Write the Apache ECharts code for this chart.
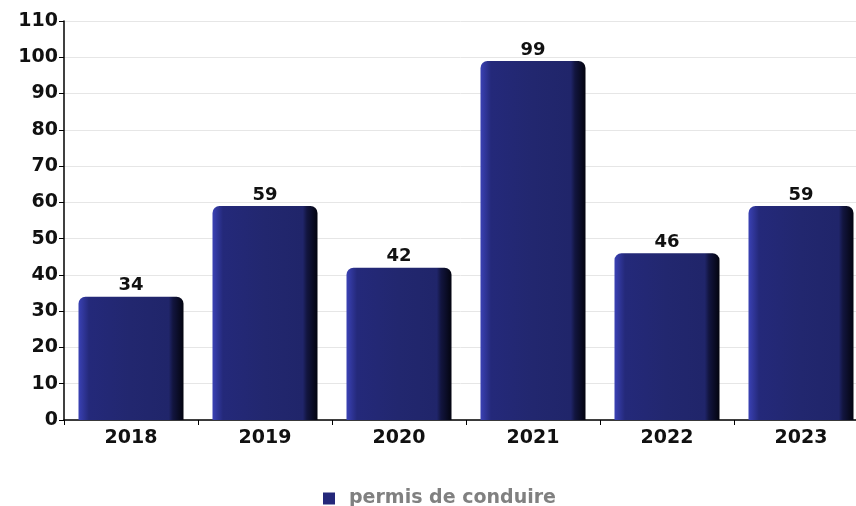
<!DOCTYPE html>
<html><head><meta charset="utf-8">
<script src="https://cdn.jsdelivr.net/npm/echarts@6/dist/echarts.min.js"></script>
<style>html,body{margin:0;padding:0;background:#fff}#c{width:856px;height:506px}</style>
</head><body><div id="c"></div>
<script>
const categories = ['2018','2019','2020','2021','2022','2023'];
const values = [34, 59, 42, 99, 46, 59];
const seriesName = 'permis de conduire';
const yTicks = {min: 0, max: 110, interval: 10};

const font = 'DejaVu Sans';
const chart = echarts.init(document.getElementById('c'), null, {renderer: 'canvas'});
chart.setOption({
  animation: false,
  backgroundColor: '#ffffff',
  grid: {left: 64, top: 21, width: 804, height: 399, containLabel: false, outerBoundsMode: 'none'},
  legend: {
    top: 484, left: 318,
    itemWidth: 12, itemHeight: 12, itemGap: 12,
    icon: 'rect',
    textStyle: {fontFamily: font, fontWeight: 'bold', fontSize: 19, color: '#808080', padding: [0, 0, 0, 9]},
    data: [{name: seriesName, itemStyle: {color: '#24287a'}}]
  },
  xAxis: {
    type: 'category', data: categories,
    axisLine: {lineStyle: {color: '#000', width: 1.5}},
    axisTick: {show: true, length: 5, lineStyle: {color: '#000'}},
    axisLabel: {fontFamily: font, fontWeight: 'bold', fontSize: 19, color: '#111', margin: 9},
    splitLine: {show: false}
  },
  yAxis: {
    type: 'value', min: yTicks.min, max: yTicks.max, interval: yTicks.interval,
    axisLine: {show: true, lineStyle: {color: '#000', width: 1.5}},
    axisTick: {show: true, length: 5, lineStyle: {color: '#000'}},
    axisLabel: {fontFamily: font, fontWeight: 'bold', fontSize: 19, color: '#111', margin: 6},
    splitLine: {lineStyle: {color: '#e6e6e6', width: 1}}
  },
  series: [{
    name: seriesName, type: 'bar', data: values,
    barWidth: 105,
    itemStyle: {
      borderRadius: [7, 7, 0, 0],
      color: {type: 'linear', x: 0, y: 0, x2: 1, y2: 0, colorStops: [
        {offset: 0, color: '#3a41b4'},
        {offset: 0.1, color: '#24297a'},
        {offset: 0.5, color: '#22276f'},
        {offset: 0.86, color: '#20256a'},
        {offset: 0.9, color: '#12153f'},
        {offset: 1, color: '#03040f'}
      ]}
    },
    label: {show: true, position: 'top', distance: 2, fontFamily: font, fontWeight: 'bold', fontSize: 18, color: '#111'}
  }]
});
</script></body></html>
